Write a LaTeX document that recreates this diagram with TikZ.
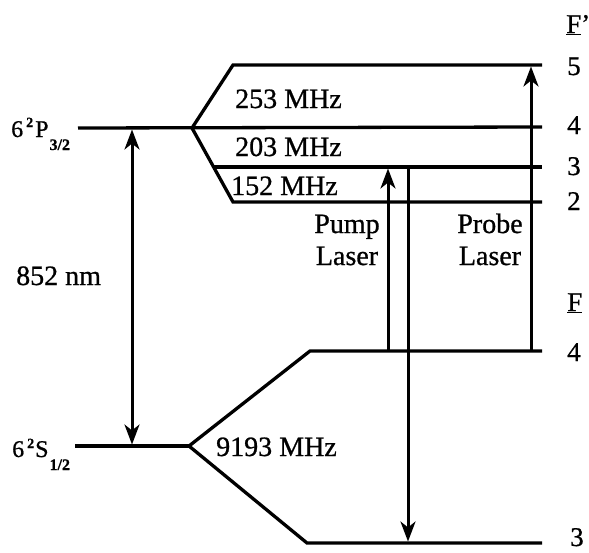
\documentclass[tikz,border=0pt]{standalone}
\usepackage{fontspec}
\setmainfont{Liberation Serif}[FakeBold=0.8]
\usetikzlibrary{arrows.meta}
\begin{document}
\begin{tikzpicture}[x=1pt,y=-1pt,
  level/.style={line width=3.3pt},
  tip/.tip={Stealth[length=20pt,width=15pt,inset=6pt]},
  trans/.style={line width=3pt,-tip},
  transboth/.style={line width=3pt,tip-tip},
  lbl/.style={anchor=base west,inner sep=0pt,font=\fontsize{28}{32}\selectfont},
  num/.style={anchor=base west,inner sep=0pt,font=\fontsize{27}{30}\selectfont},
  state/.style={anchor=base west,inner sep=0pt,font=\fontsize{24}{24}\selectfont},
  laser/.style={anchor=base,inner sep=0pt,align=center,font=\fontsize{28}{32}\selectfont}]
\useasboundingbox (0,0) rectangle (589,552);
% coordinates
\coordinate (Pl) at (78,128);
\coordinate (Pb) at (192,128);
\coordinate (F5a) at (233,65);
\coordinate (F5b) at (542,65);
\coordinate (F4b) at (542,127);
\coordinate (F3a) at (214,167);
\coordinate (F3b) at (542,167);
\coordinate (F2a) at (233,202);
\coordinate (F2b) at (542,202);
\coordinate (Sl) at (75,446);
\coordinate (Sb) at (189,446);
\coordinate (G4a) at (310,351);
\coordinate (G4b) at (542,351);
\coordinate (G3a) at (307,543);
\coordinate (G3b) at (542,543);
% levels
\draw[level] (Pl) -- (F4b);
\draw[level] (F5b) -- (F5a) -- (Pb) -- (F2a) -- (F2b);
\draw[level] (F3a) -- (F3b);
\draw[level] (Sl) -- (Sb);
\draw[level] (G4b) -- (G4a) -- (Sb) -- (G3a) -- (G3b);
% transitions
\coordinate (A1) at (132,129.5);
\coordinate (A2) at (132,444.5);
\draw[transboth] (A1) -- (A2);
\coordinate (Pu1) at (388,351);
\coordinate (Pu2) at (388,168.5);
\draw[trans] (Pu1) -- (Pu2);
\coordinate (Pd1) at (408,167);
\coordinate (Pd2) at (408,541.5);
\draw[trans] (Pd1) -- (Pd2);
\coordinate (Pr1) at (531,351);
\coordinate (Pr2) at (531,66.5);
\draw[trans] (Pr1) -- (Pr2);
% labels
\node[state] (lP) at (11,137) {6\kern3pt\raisebox{10pt}{\fontsize{14}{14}\selectfont\bfseries 2}\kern2pt P\kern1pt\raisebox{-13pt}{\fontsize{16}{16}\selectfont\bfseries 3/2}};
\node[state] (lS) at (12,457) {6\kern3pt\raisebox{9pt}{\fontsize{14}{14}\selectfont\bfseries 2}\kern1pt S\kern1pt\raisebox{-13pt}{\fontsize{16}{16}\selectfont\bfseries 1/2}};
\node[lbl] (l852) at (16,285) {852 nm};
\node[lbl] (l253) at (235,108) {253 MHz};
\node[lbl] (l203) at (235,156) {203 MHz};
\node[lbl] (l152) at (231,195) {152 MHz};
\node[lbl] (l9193) at (216,456) {9193 MHz};
\node[laser] (lpump) at (347,265) {Pump\\Laser};
\node[laser] (lprobe) at (490,265) {Probe\\Laser};
\node[num] (nFp) at (566,33) {\underline{F}'};
\node[num] (n5) at (567,75) {5};
\node[num] (n4) at (567,134) {4};
\node[num] (n3) at (567,175) {3};
\node[num] (n2) at (567,210) {2};
\node[num] (nF) at (567,311) {\underline{F}};
\node[num] (n4b) at (567,361) {4};
\node[num] (n3b) at (570,546) {3};
\end{tikzpicture}
\end{document}
